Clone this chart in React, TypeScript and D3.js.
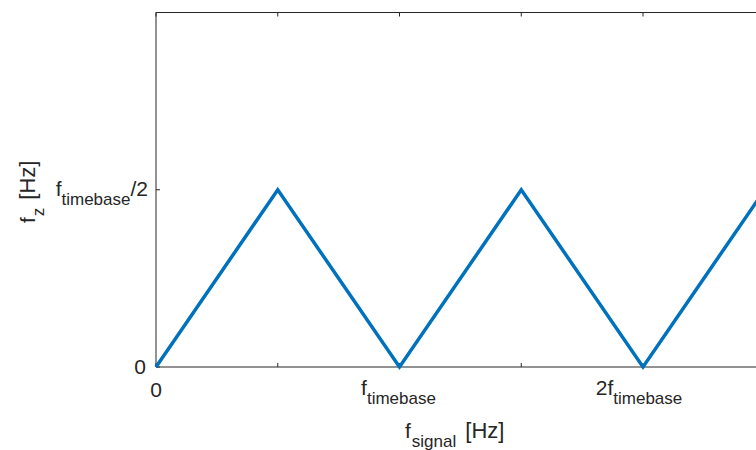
import React from 'react'
import * as d3 from 'd3'

// triangle wave, x and y in units of f_timebase
const fSignal = [0, 0.5, 1, 1.5, 2, 2.5, 3]
const fZ = [0, 0.5, 0, 0.5, 0, 0.5, 0]
const xTicks = [0, 0.5, 1, 1.5, 2, 2.5, 3]
const yTicks = [0, 0.5]

export default function App() {
    const width = 756
    const height = 450
    const [left, top, plotW, plotH] = [156, 12.5, 730.5, 354.5]

    const x = d3.scaleLinear().domain([0, 3]).range([left, left + plotW])
    const y = d3.scaleLinear().domain([0, 1]).range([top + plotH, top])

    const line = d3
        .line<number>()
        .x((d, i) => x(fSignal[i]))
        .y(d => y(d))

    const axisColor = '#262626'
    const font = 'Liberation Sans, Arial, Helvetica, sans-serif'
    const bottom = top + plotH
    const [main, sub, subDy] = [21, 17, 9]

    return (
        <svg
            width={width}
            height={height}
            style={{ position: 'absolute', left: 0, top: 0 }}
            fontFamily={font}
        >
            <rect width={width} height={height} fill='white' />
            {/* box */}
            <g stroke={axisColor} strokeWidth={1} fill='none'>
                <line x1={left} x2={left + plotW} y1={top} y2={top} />
                <line x1={left} x2={left + plotW} y1={bottom} y2={bottom} />
                <line x1={left} x2={left} y1={top} y2={bottom} />
                {xTicks.map(t => (
                    <g key={t}>
                        <line x1={x(t)} x2={x(t)} y1={bottom} y2={bottom - 4} />
                        <line x1={x(t)} x2={x(t)} y1={top} y2={top + 4} />
                    </g>
                ))}
                {yTicks.map(t => (
                    <line key={t} x1={left} x2={left + 4} y1={y(t)} y2={y(t)} />
                ))}
            </g>

            <path
                d={line(fZ) || ''}
                fill='none'
                stroke='#0072BD'
                strokeWidth={3.5}
                strokeLinejoin='miter'
            />

            {/* x tick labels */}
            <g fill={axisColor} fontSize={main}>
                <text x={x(0)} y={bottom + 30} textAnchor='middle'>
                    0
                </text>
                <text x={x(1) - 1} y={bottom + 28} textAnchor='middle'>
                    f
                    <tspan fontSize={sub} dy={subDy}>
                        timebase
                    </tspan>
                </text>
                <text x={x(2) - 4} y={bottom + 28} textAnchor='middle'>
                    2f
                    <tspan fontSize={sub} dy={subDy}>
                        timebase
                    </tspan>
                </text>
            </g>

            {/* y tick labels */}
            <g fill={axisColor} fontSize={main} textAnchor='end'>
                <text x={left - 10} y={y(0) + 7}>
                    0
                </text>
                <text x={left - 8} y={y(0.5) + 6}>
                    f
                    <tspan fontSize={sub} dy={subDy}>
                        timebase
                    </tspan>
                    <tspan dy={-subDy}>/2</tspan>
                </text>
            </g>

            {/* axis labels */}
            <text x={405} y={bottom + 71} fill={axisColor} fontSize={main}>
                f
                <tspan fontSize={sub} dy={subDy} dx={1}>
                    signal
                </tspan>
                <tspan dy={-subDy} dx={9} fontSize={22}>
                    [Hz]
                </tspan>
            </text>
            <text
                transform={`translate(35, 223) rotate(-90)`}
                fill={axisColor}
                fontSize={main}
            >
                f
                <tspan fontSize={sub} dy={subDy} dx={1}>
                    z
                </tspan>
                <tspan dy={-subDy} dx={8} fontSize={22}>
                    [Hz]
                </tspan>
            </text>
        </svg>
    )
}
